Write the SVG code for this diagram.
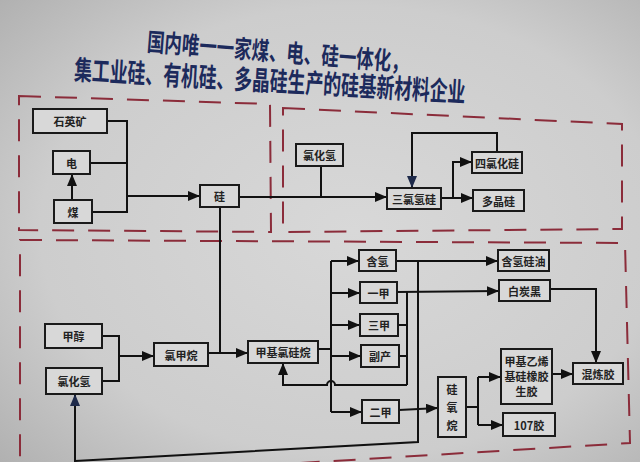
<svg xmlns="http://www.w3.org/2000/svg" width="640" height="462" viewBox="0 0 640 462">
<defs>
<radialGradient id="bg" cx="55%" cy="50%" r="75%">
<stop offset="0" stop-color="#d8d8d8"/>
<stop offset="0.65" stop-color="#cdcdcd"/>
<stop offset="1" stop-color="#b0b0b0"/>
</radialGradient>
<marker id="ah" viewBox="0 0 12 10" refX="12" refY="5" markerWidth="12" markerHeight="10" markerUnits="userSpaceOnUse" orient="auto">
<path d="M0,0 L12,5 L0,10 Z" fill="#111"/>
</marker>
<marker id="ahb" viewBox="0 0 12 10" refX="12" refY="5" markerWidth="12" markerHeight="10" markerUnits="userSpaceOnUse" orient="auto">
<path d="M0,0 L12,5 L0,10 Z" fill="#1e2a4a"/>
</marker>
</defs>
<style>
.box{fill:#d8d8d8;stroke:#1a1a1a;stroke-width:2}
.lbl{font-family:"Noto Sans CJK SC","Noto Sans",sans-serif;font-size:11px;font-weight:bold;fill:#222;text-anchor:middle;dominant-baseline:central}
.ln{fill:none;stroke:#111;stroke-width:2}
.ar{fill:none;stroke:#111;stroke-width:2;marker-end:url(#ah)}
.arb{fill:none;stroke:#111;stroke-width:2;marker-end:url(#ahb)}
.dash{fill:none;stroke:#8b2c3a;stroke-width:2;stroke-dasharray:22 14}
.title{font-family:"Noto Sans CJK SC","Noto Sans",sans-serif;font-weight:bold;fill:#1c2a5c;text-anchor:middle;dominant-baseline:central}
</style>
<rect width="640" height="462" fill="url(#bg)"/>

<g id="title">
<g transform="translate(278 50) rotate(4.5) scale(0.70 1)"><text class="title" x="0" y="0" font-size="25">国内唯一一家煤、电、硅一体化，</text></g>
<g transform="translate(270 79) rotate(3.3) scale(0.66 1)"><text class="title" x="0" y="0" font-size="27">集工业硅、有机硅、多晶硅生产的硅基新材料企业</text></g>
</g>

<g id="regions">
<path class="dash" d="M19,96 L270,104 L271,232 L19,230 Z"/>
<path class="dash" d="M283,108 L622,124 L622,229 L283,232 Z"/>
<path class="dash" d="M20,240 L625,243 L630,443 L20,480 Z"/>
</g>

<g id="connectors">
<polyline class="ln" points="107,121 127,121 127,212 92,212"/>
<line class="ln" x1="90" y1="163" x2="127" y2="163"/>
<line class="ar" x1="127" y1="196" x2="200" y2="196"/>
<line class="ar" x1="72" y1="200" x2="72" y2="174"/>
<line class="ar" x1="239" y1="197" x2="387" y2="197"/>
<line class="ln" x1="321" y1="166" x2="321" y2="197"/>
<line class="ar" x1="441" y1="198" x2="473" y2="198"/>
<polyline class="ar" points="453,198 453,162 472,162"/>
<polyline class="arb" points="497,152 497,133 412,133 412,188"/>
<line class="ln" x1="220" y1="207" x2="220" y2="353"/>
<polyline class="ln" points="102,336 119,336 119,381 102,381"/>
<line class="ar" x1="119" y1="356" x2="154" y2="356"/>
<line class="ar" x1="208" y1="353" x2="248" y2="353"/>
<line class="ln" x1="318" y1="349" x2="331" y2="349"/>
<line class="ln" x1="331" y1="261" x2="331" y2="412"/>
<line class="ar" x1="331" y1="261" x2="359" y2="261"/>
<line class="ar" x1="331" y1="293" x2="360" y2="293"/>
<line class="ar" x1="331" y1="325" x2="360" y2="325"/>
<line class="ar" x1="331" y1="356" x2="361" y2="356"/>
<line class="ar" x1="331" y1="412" x2="362" y2="412"/>
<line class="ar" x1="396" y1="261" x2="498" y2="261"/>
<line class="ar" x1="397" y1="292" x2="499" y2="291"/>
<line class="ln" x1="407" y1="292" x2="407" y2="385"/>
<line class="ln" x1="398" y1="325" x2="407" y2="325"/>
<line class="ln" x1="399" y1="356" x2="407" y2="356"/>
<path class="ar" d="M407,385 L335,385 A4,4 0 0 0 327,385 L283,385 L283,363"/>
<polyline class="arb" points="418,261 418,442 75,461 75,394"/>
<line class="ar" x1="399" y1="410" x2="438" y2="408"/>
<line class="ln" x1="466" y1="407" x2="478" y2="407"/>
<line class="ln" x1="478" y1="377" x2="478" y2="425"/>
<line class="ar" x1="478" y1="377" x2="501" y2="377"/>
<line class="ar" x1="478" y1="425" x2="503" y2="425"/>
<polyline class="ar" points="550,289 596,289 596,363"/>
<line class="ar" x1="552" y1="374" x2="573" y2="374"/>
</g>

<g id="n-quartz"><rect class="box" x="33" y="109" width="74" height="24"/><text class="lbl" x="70" y="121">石英矿</text></g>
<g id="n-power"><rect class="box" x="53" y="151" width="37" height="23"/><text class="lbl" x="71.5" y="162.5">电</text></g>
<g id="n-coal"><rect class="box" x="54" y="200" width="38" height="23"/><text class="lbl" x="73" y="211.5">煤</text></g>
<g id="n-si"><rect class="box" x="200" y="185" width="39" height="22"/><text class="lbl" x="219.5" y="196">硅</text></g>
<g id="n-hcl1"><rect class="box" x="296" y="144" width="47" height="22"/><text class="lbl" x="319.5" y="155">氯化氢</text></g>
<g id="n-tcs"><rect class="box" x="387" y="188" width="54" height="21"/><text class="lbl" x="414" y="198.5">三氯氢硅</text></g>
<g id="n-stc"><rect class="box" x="472" y="152" width="50" height="21"/><text class="lbl" x="497" y="162.5">四氯化硅</text></g>
<g id="n-poly"><rect class="box" x="473" y="190" width="51" height="21"/><text class="lbl" x="498.5" y="200.5">多晶硅</text></g>
<g id="n-meoh"><rect class="box" x="45" y="324" width="57" height="24"/><text class="lbl" x="73.5" y="336">甲醇</text></g>
<g id="n-hcl2"><rect class="box" x="46" y="368" width="56" height="26"/><text class="lbl" x="74" y="381">氯化氢</text></g>
<g id="n-mecl"><rect class="box" x="154" y="343" width="54" height="23"/><text class="lbl" x="181" y="354.5">氯甲烷</text></g>
<g id="n-mcs"><rect class="box" x="248" y="341" width="70" height="22"/><text class="lbl" x="283" y="352">甲基氯硅烷</text></g>
<g id="n-h"><rect class="box" x="359" y="250" width="37" height="21"/><text class="lbl" x="377.5" y="260.5">含氢</text></g>
<g id="n-m1"><rect class="box" x="360" y="282" width="37" height="21"/><text class="lbl" x="378.5" y="292.5">一甲</text></g>
<g id="n-m3"><rect class="box" x="360" y="314" width="38" height="22"/><text class="lbl" x="379" y="325">三甲</text></g>
<g id="n-by"><rect class="box" x="361" y="345" width="38" height="22"/><text class="lbl" x="380" y="356">副产</text></g>
<g id="n-m2"><rect class="box" x="362" y="400" width="37" height="23"/><text class="lbl" x="380.5" y="411.5">二甲</text></g>
<g id="n-siloxane"><rect class="box" x="438" y="377" width="28" height="60"/><text class="lbl" x="452" y="389">硅</text><text class="lbl" x="452" y="407">氧</text><text class="lbl" x="452" y="425">烷</text></g>
<g id="n-hoil"><rect class="box" x="498" y="250" width="51" height="21"/><text class="lbl" x="523.5" y="260.5">含氢硅油</text></g>
<g id="n-silica"><rect class="box" x="499" y="280" width="51" height="21"/><text class="lbl" x="524.5" y="290.5">白炭黑</text></g>
<g id="n-raw"><rect class="box" x="501" y="349" width="51" height="55"/><text class="lbl" x="526.5" y="361">甲基乙烯</text><text class="lbl" x="526.5" y="376">基硅橡胶</text><text class="lbl" x="526.5" y="391">生胶</text></g>
<g id="n-mix"><rect class="box" x="573" y="363" width="50" height="21"/><text class="lbl" x="598" y="373.5">混炼胶</text></g>
<g id="n-107"><rect class="box" x="503" y="413" width="52" height="23"/><text class="lbl" x="529" y="424.5">107胶</text></g>
</svg>
